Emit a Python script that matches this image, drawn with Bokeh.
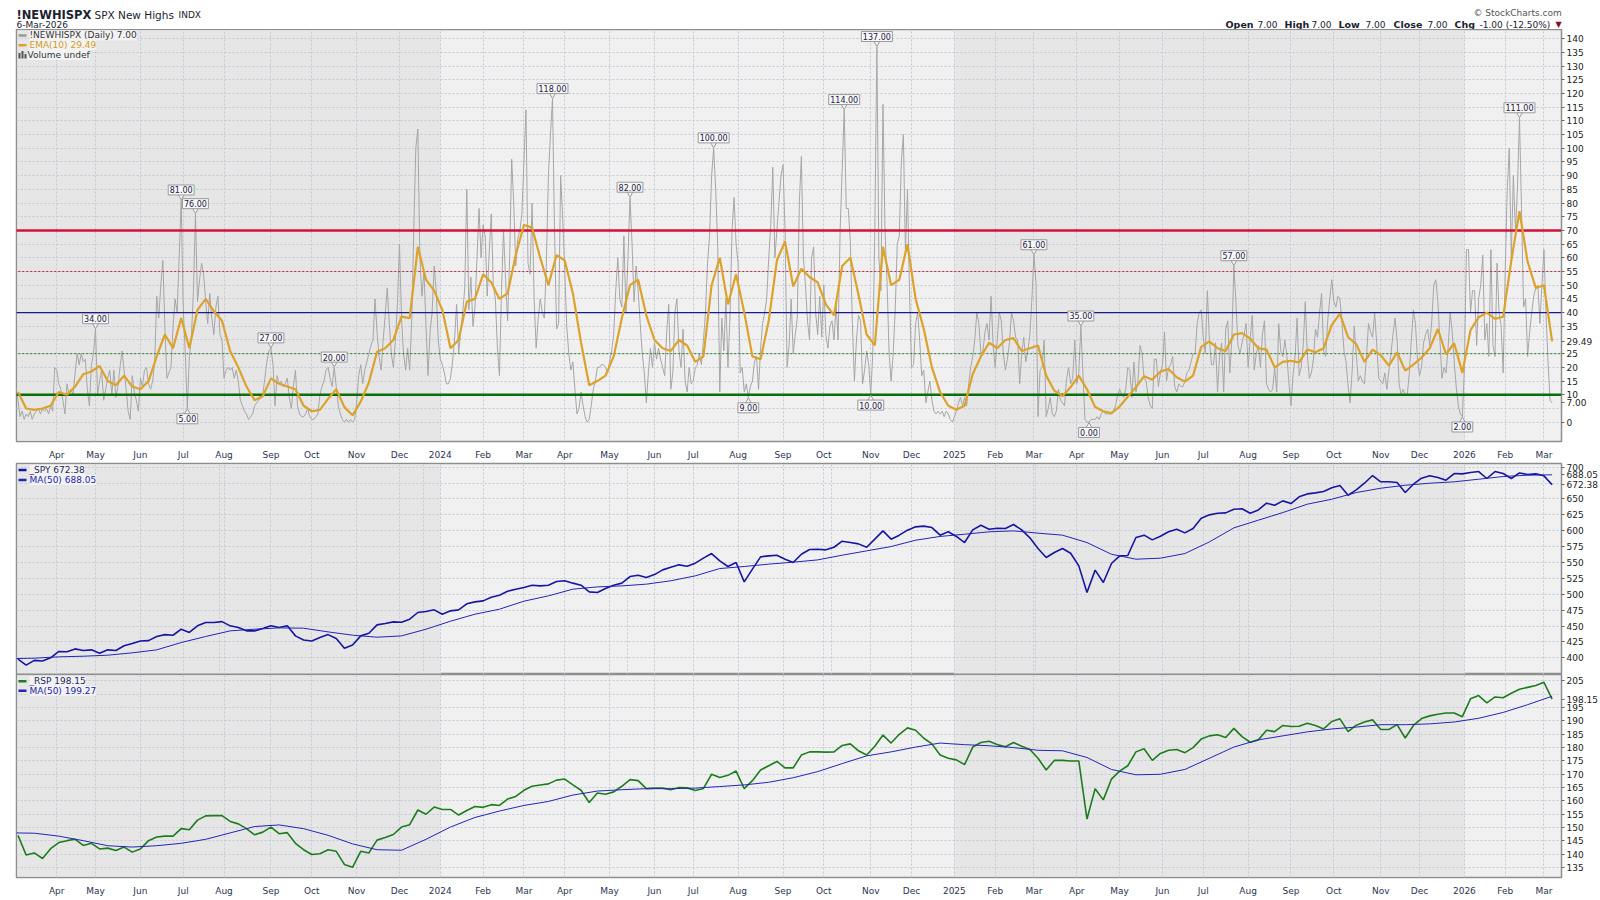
import numpy as np
import pandas as pd
from pandas.tseries.offsets import CustomBusinessDay
from bokeh.plotting import figure
from bokeh.models import Range1d, FixedTicker, Label, Grid
from bokeh.layouts import column
from bokeh.embed import file_html
from bokeh.resources import INLINE
from bokeh.core.properties import value

FONT = "DejaVu Sans"

# ------------------------------------------------------------------ data
start_date = "2023-03-06"
end_date = "2026-03-06"
market_holidays = [
    "2023-04-07", "2023-05-29", "2023-06-19", "2023-07-04", "2023-09-04", "2023-11-23", "2023-12-25",
    "2024-01-01", "2024-01-15", "2024-02-19", "2024-03-29", "2024-05-27", "2024-06-19", "2024-07-04",
    "2024-09-02", "2024-11-28", "2024-12-25",
    "2025-01-01", "2025-01-09", "2025-01-20", "2025-02-17", "2025-04-18", "2025-05-26", "2025-06-19",
    "2025-07-04", "2025-09-01", "2025-11-27", "2025-12-25",
    "2026-01-01", "2026-01-19", "2026-02-16",
]

# !NEWHISPX daily values (one per session)
new_highs = [
    13, 8, 2, 4, 1, 3, 2, 4, 1, 3, 4, 5, 3, 5, 4, 5, 3, 6, 4, 20,
    19, 14, 12, 8, 3, 14, 10, 12, 10, 18, 25, 21, 25, 22, 23, 12, 6, 21, 25, 34,
    10, 15, 19, 8, 12, 16, 19, 10, 19, 9, 13, 20, 26, 19, 12, 4, 1, 17, 11, 8,
    4, 16, 13, 19, 20, 14, 12, 15, 22, 46, 38, 50, 59, 35, 16, 18, 20, 35, 45, 40,
    60, 81, 42, 25, 5, 24, 31, 48, 76, 44, 52, 58, 54, 44, 36, 47, 38, 32, 42, 46,
    32, 30, 16, 19, 20, 19, 20, 16, 19, 15, 8, 6, 4, 3, 1, 2, 3, 6, 7, 8,
    9, 10, 16, 22, 26, 27, 21, 6, 17, 14, 15, 13, 14, 16, 9, 5, 13, 19, 6, 3,
    2, 2, 3, 5, 2, 1, 1, 2, 3, 10, 13, 15, 19, 20, 16, 13, 20, 13, 6, 3,
    1, 0, 1, 0, 1, 0, 1, 7, 17, 21, 14, 19, 22, 25, 28, 30, 45, 33, 24, 19,
    30, 39, 49, 36, 25, 20, 30, 43, 65, 38, 25, 19, 27, 19, 37, 70, 100, 107, 60, 46,
    55, 35, 17, 33, 40, 57, 48, 30, 23, 21, 18, 14, 14, 16, 22, 30, 43, 25, 33, 40,
    49, 85, 41, 53, 35, 42, 60, 78, 60, 72, 68, 46, 62, 76, 50, 45, 27, 17, 48, 70,
    52, 37, 60, 96, 80, 57, 67, 70, 76, 95, 114, 58, 54, 80, 45, 27, 38, 45, 40, 38,
    58, 90, 105, 118, 70, 34, 36, 90, 75, 55, 35, 25, 19, 22, 12, 3, 5, 11, 6, 2,
    0, 1, 6, 12, 15, 20, 20, 21, 21, 20, 18, 22, 26, 32, 48, 60, 45, 42, 68, 40,
    60, 82, 65, 44, 57, 48, 36, 25, 18, 7, 18, 27, 20, 29, 23, 27, 23, 20, 17, 33,
    43, 12, 18, 40, 45, 26, 20, 34, 15, 11, 20, 14, 15, 20, 21, 25, 21, 30, 40, 58,
    68, 90, 100, 85, 64, 11, 38, 26, 45, 20, 38, 70, 82, 65, 58, 18, 20, 11, 14, 9,
    13, 15, 22, 24, 12, 27, 36, 40, 45, 60, 72, 93, 60, 70, 80, 90, 94, 70, 20, 28,
    45, 25, 32, 38, 80, 97, 60, 50, 37, 30, 60, 64, 40, 32, 46, 31, 50, 32, 27, 35,
    37, 30, 43, 30, 70, 92, 114, 78, 78, 66, 36, 15, 30, 39, 37, 14, 19, 26, 21, 10,
    25, 70, 137, 60, 48, 116, 70, 51, 25, 15, 25, 41, 65, 68, 95, 105, 62, 85, 48, 20,
    21, 36, 40, 30, 17, 19, 7, 11, 15, 8, 4, 3, 4, 3, 4, 2, 4, 3, 1, 0,
    2, 4, 7, 9, 6, 9, 6, 14, 20, 24, 30, 40, 36, 25, 26, 33, 36, 30, 46, 28,
    20, 30, 40, 37, 25, 19, 23, 29, 40, 37, 31, 30, 14, 25, 31, 22, 26, 32, 45, 61,
    51, 2, 19, 20, 30, 2, 5, 9, 3, 2, 4, 12, 8, 7, 6, 16, 20, 14, 16, 30,
    14, 18, 35, 18, 1, 0, 0, 1, 1, 1, 2, 1, 3, 4, 3, 3, 3, 3, 4, 6,
    10, 12, 10, 9, 12, 20, 19, 9, 22, 11, 15, 28, 25, 16, 15, 9, 6, 5, 23, 23,
    13, 18, 21, 33, 15, 20, 21, 24, 13, 11, 14, 13, 13, 15, 18, 19, 22, 25, 25, 36,
    40, 41, 31, 25, 48, 30, 21, 21, 29, 11, 24, 29, 11, 34, 37, 18, 30, 57, 44, 28,
    25, 29, 32, 36, 20, 30, 39, 19, 25, 28, 20, 32, 37, 14, 12, 11, 12, 20, 11, 36,
    26, 24, 30, 24, 14, 6, 17, 24, 38, 17, 20, 28, 44, 25, 16, 18, 23, 34, 31, 40,
    47, 26, 24, 37, 45, 52, 44, 42, 46, 45, 36, 26, 22, 13, 7, 19, 35, 25, 15, 17,
    15, 14, 24, 36, 33, 31, 40, 29, 16, 15, 14, 18, 12, 19, 25, 32, 38, 30, 14, 10,
    12, 10, 10, 18, 30, 41, 36, 23, 17, 20, 29, 32, 34, 28, 37, 50, 52, 44, 30, 16,
    20, 18, 27, 40, 33, 22, 13, 6, 3, 2, 20, 63, 63, 40, 48, 48, 28, 45, 50, 61,
    30, 36, 24, 63, 28, 24, 58, 40, 35, 18, 55, 85, 100, 60, 90, 70, 85, 111, 78, 42,
    45, 24, 33, 40, 46, 49, 50, 36, 50, 63, 40, 22, 8, 7,
]

# EMA(10) of !NEWHISPX, read every 4th session starting at session 1
ema10 = [
    11, 5, 4.5, 5, 6, 11, 10, 13, 17.5, 18.5, 20.5, 15, 13.5, 17, 13, 12, 15, 24, 32, 27,
    38, 27, 41, 45, 40.5, 37, 26, 20, 13, 8, 9.5, 16, 14, 13, 12, 6, 4, 4.5, 8.5, 12,
    5.5, 2.5, 7.5, 14.5, 25.7, 27, 30, 38.5, 38,
    64, 52, 48, 41, 27, 30, 44, 45, 54, 51, 45, 47, 61, 72, 71, 60, 50, 61, 59, 47,
    29, 13.5, 15, 17, 24, 38, 50, 52, 39, 30, 27, 26, 30, 28, 22, 24, 50, 60, 43, 54,
    40, 24, 23, 37, 59, 66, 49.5, 56,
    53, 51, 43, 39, 57, 60, 46.5, 32, 28, 64, 50, 52, 65, 45, 34, 20, 11, 6, 4.5, 6,
    17.6, 24, 29, 27, 30, 30.7, 26, 27, 28, 17, 11.5, 9.5, 12.8, 17, 12, 5.5, 4, 3.3, 5.7, 9.3,
    12.8, 16.8, 15.5, 18.5, 19.4, 16.4, 14.8, 17,
    27.5, 29.5, 27, 26, 32, 32.5, 30.5, 27, 26.5, 20, 22, 22.4, 21.8, 26.5, 25.5, 27, 35.5, 39.6, 31, 28.5,
    22, 26.5, 24.5, 20.6, 25.5, 18.8, 21, 23.6, 27, 34, 24.8,
    28.8, 18, 33.6, 38.3, 40, 37.7, 38.5, 59, 77, 58.5, 49, 50, 29.49,
]

# _SPY close, every 4th session starting at session 1
spy = [
    398, 388.5, 396, 395, 400, 410, 409.5, 414, 411.5, 412.5, 407, 412.5, 411.5, 419, 422.5, 426.5, 427, 433.5, 436.5, 435.5,
    445, 440, 450.3, 455.5, 455.5, 457, 450.3, 447.6, 442.4, 442.4, 446, 450.3, 447.6, 450.3, 434.5, 428, 426.5, 432, 436.5, 430.5,
    415, 420, 434.5, 438.7, 451.8, 454, 456.5, 456, 460.8, 471.3, 472.8, 475.5, 468.6, 473.9, 475.5, 485, 488, 489.6, 495.4, 498.5,
    504.8, 508, 510.6,
    514.3, 513.2, 514.3, 520, 521.2, 517.5, 514.3, 503.8, 502.7, 509, 514.3, 517.5, 527.9, 530, 526.3, 531, 538.4, 542.6, 546.3, 544.2,
    549, 556.8, 564.1, 552.6, 543.7, 550, 519.5, 539.5, 558.9, 560.4, 561.5, 555.2, 550, 563, 570.4, 570.9, 569.9, 574, 583.5, 581.4,
    579.3, 574, 586.7, 599.8, 586.7, 593, 600.9, 606.1, 607.2, 605, 593, 598.3, 591, 581.4, 601.3, 608.7, 602.4, 604, 603.5, 609.8,
    601.3, 588.8, 572,
    557.8, 565.7, 572, 564.6, 544.7, 502.7, 538, 518.5, 548.4, 560.4, 561, 589.3, 593, 585.6, 591.4, 598.3, 602.4, 596.6, 603.5, 619.7,
    625, 627.6, 628.1, 633.9, 634.5, 627.6, 632.8, 643.3, 640.2, 647, 642.8, 653.3, 658, 659.6, 661.7, 667.5, 671.1, 655.9, 664.3, 674.8,
    686.9, 677, 677, 675.9, 660.1, 673.2, 682.7, 686.4, 683.7, 679.5, 690, 689.5, 691.6, 693.2, 682.2, 693.2, 690, 682.2, 691, 688.5,
    689.5, 686.4, 672.38,
]

# _SPY MA(50): session 0, then every 12th session starting at session 9
spy_ma50 = [
    398.8,
    399.4, 401.5, 402.5, 404.1, 407.8, 412.5, 424, 433.5, 442.4, 445, 447.1, 446.6, 440.8, 435.6, 432.4, 434.5, 445, 457.6, 468.6, 476.5, 489.1,
    497.5, 508, 511.6, 513.2, 515.9, 521.2, 529, 540.5, 543.7, 547.4, 550.5, 554.1, 561.5, 568.3, 575.1, 585.1, 591, 594.5, 598.3, 599.8, 596.2,
    593, 581.4, 563, 555.2, 556.8, 564.1, 582.4, 604.5, 616.6, 628.6, 641.8, 649.6, 660.1, 666.9, 671.6, 674.8, 677, 681.1, 685.3, 687.4, 688.05,
]

# _RSP close, every 4th session starting at session 1
rsp = [
    147.1, 139.7, 140.5, 138.4, 142.1, 144.4, 145.1, 145.6, 143.3, 144.1, 142, 142.3, 141.4, 142.7, 140.8, 142, 145.1, 146.5, 146.8, 146.8,
    149.6, 149.2, 152.8, 154.4, 154.5, 154.5, 152.3, 151.4, 149.6, 147.3, 148.3, 150.2, 147.7, 148.1, 144.1, 141.7, 139.9, 140.2, 141.7, 141.1,
    136.2, 135.1, 141.1, 140.5, 145.3, 146.3, 147.4, 150.2, 151.1, 156.6, 155, 157.7, 156.8, 156.8, 154.7, 156.4, 157.9, 157.6, 158.6, 158.3,
    160.7, 161.7, 164,
    165.5, 166, 166.4, 167.8, 168.2, 166, 164, 159.4, 163, 162.5, 163.4, 165.5, 168, 167.6, 164.6, 164.8, 164.8, 164.2, 165, 164.9,
    163.9, 164.7, 170, 168.8, 169.6, 171.2, 164.6, 167.6, 171.6, 173.2, 174.8, 172.4, 172.4, 177.2, 178.4, 178.4, 178.3, 178.4, 180.8, 181.4,
    178.8, 177.2, 180.5, 184.7, 181.7, 185, 187.4, 186.5, 183.5, 181.4, 177.2, 176, 175.4, 173.6, 180.2, 181.9, 182.4, 181.2, 180.3, 181.9,
    180.5, 179.3, 176,
    171.6, 175.2, 175.2, 175, 175, 153.2, 164.6, 160.4, 168.2, 171.2, 173.2, 178.4, 179.6, 175.2, 177.8, 179, 179.3, 178.1, 180, 183.2,
    184.4, 184.8, 183.8, 187.2, 184.1, 182, 182.9, 186.5, 186, 188.3, 187.9, 188, 189.1, 188.3, 187, 189.8, 190.8, 186, 188.4, 189.6,
    190.4, 186.8, 186.8, 188.6, 183.6, 188.3, 190.9, 191.9, 192.5, 193, 193, 191.6, 198.3, 199.5, 196.8, 199, 198.7, 200.4, 201.9, 202.6,
    203.3, 204.5, 198.15,
]

# _RSP MA(50): session 0, then every 12th session starting at session 9
rsp_ma50 = [
    148.0,
    147.9, 146.8, 145.1, 143.2, 142.7, 143.2, 144.1, 145.6, 148, 150.4, 151, 149.6, 147.1, 143.9, 141.7, 141.5, 145.6, 150.2, 153.8, 156.2, 158.3,
    159.8, 162.2, 163.7, 164.2, 164.6, 164.6, 164.8, 165.4, 166, 167, 168.7, 171, 174, 176.9, 178.4, 180.2, 181.7, 181.1, 180.7, 180, 179,
    178.8, 176.3, 171.8, 169.8, 170, 171.8, 176, 180.2, 182.9, 184.4, 185.9, 187, 187.7, 188.6, 188.6, 188.9, 189.6, 191, 193.2, 196.1, 199.27,
]

peak_sessions = [39, 81, 88, 125, 156, 263, 301, 342, 406, 422, 499, 522, 597, 737]
trough_sessions = [84, 359, 419, 526, 709]

h_levels = [70, 55, 40, 25, 10]
top_ticks = list(range(0, 141, 5))
mid_ticks = list(range(400, 701, 25))
bot_ticks = list(range(135, 206, 5))

# ------------------------------------------------------------------ sessions / ticks
sessions = pd.date_range(start_date, end_date, freq=CustomBusinessDay(holidays=market_holidays))
month_ticks, month_names = [], {}
for i in range(1, len(sessions)):
    if sessions[i].month != sessions[i - 1].month:
        month_ticks.append(i)
        if sessions[i].month == 1:
            month_names[i] = str(sessions[i].year)
        else:
            month_names[i] = sessions[i].strftime("%b")
year_ticks = [i for i in month_ticks if sessions[i].month == 1]

x_nh = np.arange(len(new_highs))
x_ema = np.arange(1, 1 + 4 * len(ema10), 4)
x_spy = np.arange(1, 1 + 4 * len(spy), 4)
x_rsp = np.arange(1, 1 + 4 * len(rsp), 4)
x_spy_ma = np.concatenate([[0], np.arange(9, 9 + 12 * (len(spy_ma50) - 1), 12)])
x_rsp_ma = np.concatenate([[0], np.arange(9, 9 + 12 * (len(rsp_ma50) - 1), 12)])

# ------------------------------------------------------------------ layout (page pixels = canvas pixels)
W = 1600
BL = 16
FW = 1547
BR = W - BL - FW
X0, X1 = 0.27, 757.6
PX = FW / (X1 - X0)


def xd(xa):
    return X0 + (xa - BL) / PX


HDR_H = 29
# top panel frame: 29..449
F1_TOP, F1_H = 29, 420
PPU1 = 2.7929
Y1 = (0 - (F1_TOP + F1_H - 429.3) / PPU1, 140 + (38.3 - F1_TOP) / PPU1)
# middle frame: 463..674
F2_TOP, F2_H = 463, 211
PPU2 = 0.63526
Y2 = (400 - (F2_TOP + F2_H - 657.3) / PPU2, 700 + (466.7 - F2_TOP) / PPU2)
# bottom frame: 674..885
F3_TOP, F3_H = 674, 211
PPU3 = 2.7714
Y3 = (135 - (F3_TOP + F3_H - 874.7) / PPU3, 205 + (680.7 - F3_TOP) / PPU3)


def yd1(ya):
    return Y1[1] - (ya - F1_TOP) / PPU1


def yd2(ya):
    return Y2[1] - (ya - F2_TOP) / PPU2


def yd3(ya):
    return Y3[1] - (ya - F3_TOP) / PPU3


def make_panel(h, bt, bb, yr, ppu, yticks, tags, xaxis):
    p = figure(width=W, height=h, x_range=Range1d(X0, X1), y_range=Range1d(*yr),
               x_axis_location=("below" if xaxis else None), y_axis_location="right",
               output_backend="svg", toolbar_location=None,
               min_border_left=BL, min_border_right=BR, min_border_top=bt, min_border_bottom=bb)
    p.background_fill_color = "#f0f0f0"
    p.border_fill_color = "white"
    p.outline_line_color = "#8e8e8e"
    p.outline_line_width = 1.5
    # right axis: regular ticks (those hidden behind a last-value tag are left out) + last-value tags
    tag_vals = list(tags)
    regular = [t for t in yticks if all(abs(t - tv) * ppu > 6 for tv in tag_vals)]
    overrides = {}
    for t in regular:
        overrides[t] = str(t)
        overrides[str(t)] = str(t)
    for tv in tag_vals:
        overrides[tv] = f"{tv:.2f}"
        overrides[str(tv)] = f"{tv:.2f}"
    p.yaxis.ticker = FixedTicker(ticks=regular + tag_vals)
    p.ygrid.ticker = FixedTicker(ticks=yticks)
    p.yaxis.major_label_overrides = overrides
    p.yaxis.major_label_text_font = FONT
    p.yaxis.major_label_text_font_size = "9px"
    p.yaxis.major_label_text_color = "#222222"
    p.yaxis.axis_line_color = "#8e8e8e"
    p.yaxis.major_tick_line_color = "#666666"
    p.yaxis.major_tick_in = 0
    p.yaxis.major_tick_out = 3
    p.yaxis.minor_tick_line_color = None
    p.yaxis.major_label_standoff = 2
    xt = FixedTicker(ticks=month_ticks)
    if xaxis:
        p.xaxis.ticker = xt
        p.xgrid.ticker = xt
        p.xaxis.major_label_overrides = month_names
        p.xaxis.axis_line_color = None
        p.xaxis.major_tick_line_color = None
        p.xaxis.minor_tick_line_color = None
        p.xaxis.major_label_standoff = 2
        p.xaxis.major_label_text_font = FONT
        p.xaxis.major_label_text_font_size = "9px"
        p.xaxis.major_label_text_color = "#2b3452"
    else:
        p.add_layout(Grid(dimension=0, ticker=xt))
    p.grid.grid_line_color = "#c3c9d5"
    p.grid.grid_line_dash = "2 2"
    p.grid.grid_line_width = 1
    # alternating year shading (kept 1px inside the frame so the outline stays visible)
    bounds = [X0 + 1.0 / PX] + year_ticks + [X1]
    for k in range(len(bounds) - 1):
        if k % 2 == 0:
            p.quad(left=bounds[k], right=bounds[k + 1], bottom=yr[0] + 1.0 / ppu, top=yr[1] - 1.0 / ppu,
                   fill_color="#e6e6e6", line_color=None, level="image")
    return p


def add_label(p, x, y, text, size="9px", color="#333333", bold=False, align="left",
              baseline="middle", bg=None, bg_alpha=1.0):
    lb = Label(x=x, y=y, text=text, text_font=FONT, text_font_size=size, text_color=color,
               text_font_style=("bold" if bold else "normal"), text_align=align, text_baseline=baseline)
    if bg is not None:
        lb.background_fill_color = bg
        lb.background_fill_alpha = bg_alpha
    p.add_layout(lb)


# header strip: its frame is the whole strip, coordinates are page pixels
p0 = figure(width=W, height=HDR_H, x_range=Range1d(0, W), y_range=Range1d(HDR_H, 0),
            x_axis_location=None, y_axis_location=None, output_backend="svg", toolbar_location=None,
            min_border_left=0, min_border_right=0, min_border_top=0, min_border_bottom=0)
p0.frame_align = False
p0.outline_line_color = None
p0.background_fill_color = "white"
p0.border_fill_color = "white"
p0.grid.visible = False

p1 = make_panel(F1_H + 13, 0, 13, Y1, PPU1, top_ticks, [ema10[-1], float(new_highs[-1])], True)
p2 = make_panel(F2_H + 1, 1, 0, Y2, PPU2, mid_ticks, [spy_ma50[-1], spy[-1]], False)
p3 = make_panel(F3_H + 13, 0, 13, Y3, PPU3, bot_ticks, [rsp[-1]], True)

# ------------------------------------------------------------------ header
last = new_highs[-1]
prev = new_highs[-2]
chg = last - prev
hdr = [
    (16, 14, "!NEWHISPX", "11.5px", "bold", "#1c2230"),
    (94, 14, "SPX New Highs", "10.5px", "normal", "#1c2230"),
    (178, 14, "INDX", "9px", "normal", "#1c2230"),
    (16, 24, sessions[-1].strftime("%-d-%b-%Y"), "9px", "normal", "#1c2230"),
    (1473, 12.5, "\u00a9 StockCharts.com", "9px", "normal", "#555555"),
    (1225, 24, "Open", "9.5px", "bold", "#1c2230"),
    (1257, 24, f"{last:.2f}", "9px", "normal", "#1c2230"),
    (1284, 24, "High", "9.5px", "bold", "#1c2230"),
    (1311, 24, f"{last:.2f}", "9px", "normal", "#1c2230"),
    (1338, 24, "Low", "9.5px", "bold", "#1c2230"),
    (1365, 24, f"{last:.2f}", "9px", "normal", "#1c2230"),
    (1393, 24, "Close", "9.5px", "bold", "#1c2230"),
    (1427, 24, f"{last:.2f}", "9px", "normal", "#1c2230"),
    (1454, 24, "Chg", "9.5px", "bold", "#1c2230"),
    (1479, 24, f"{chg:.2f} ({chg / prev * 100:.2f}%)", "9px", "normal", "#1c2230"),
    (1555, 24, "\u25bc", "8px", "normal", "#8b0a2a"),
]
for xa, ya, t, fs, st, c in hdr:
    p0.text(x=[xa], y=[ya], text=[t], text_font=value(FONT), text_font_size=fs, text_font_style=st,
            text_color=c, text_align="left", text_baseline="alphabetic")

# ------------------------------------------------------------------ top panel
p1.line(x_nh, new_highs, line_color="#a6a6a6", line_width=1)
level_styles = [("#d3103a", 2.5, "solid"), ("#c8203c", 1, "2 2"), ("#1a1a8a", 1.2, "solid"),
                ("#1a7a1a", 1, "2 2"), ("#0a6e0a", 2.5, "solid")]
for lv, (c, w, d) in zip(h_levels, level_styles):
    p1.segment(x0=X0 - 5, y0=lv, x1=X1 + 5, y1=lv, line_color=c, line_width=w, line_dash=d)
p1.line(x_ema, ema10, line_color="#dca22a", line_width=2.2)

# peak / trough call-outs
ax, ay, at, aw, tx, ty, bx, by = [], [], [], [], [], [], [], []
for i in peak_sessions:
    v = new_highs[i]
    t = f"{v:.2f}"
    ax.append(i); ay.append(v + 10.5 / PPU1); at.append(t)
    aw.append(((len(t) - 1) * 0.636 + 0.318) * 8 + 3)
    tx.append(i); ty.append(v + 4.0 / PPU1)
for i in trough_sessions:
    v = new_highs[i]
    t = f"{v:.2f}"
    ax.append(i); ay.append(v - 10.5 / PPU1); at.append(t)
    aw.append(((len(t) - 1) * 0.636 + 0.318) * 8 + 3)
    bx.append(i); by.append(v - 4.0 / PPU1)
p1.scatter(tx, ty, marker="inverted_triangle", size=6, fill_color="#f7f7f7", line_color="#9a9a9a")
p1.scatter(bx, by, marker="triangle", size=6, fill_color="#f7f7f7", line_color="#9a9a9a")
p1.rect(x=ax, y=ay, width=aw, height=10, width_units="screen", height_units="screen",
        fill_color="#f7f7f7", line_color="#9a9a9a", line_width=1)
p1.text(x=ax, y=ay, text=at, text_align="center", text_baseline="middle",
        text_font=value(FONT), text_font_size="8px", text_color="#1b2147")

# legend
p1.segment(x0=xd(18), y0=yd1(35), x1=xd(26), y1=yd1(35), line_color="#9a9a9a", line_width=2.5)
add_label(p1, xd(29), yd1(35), f"!NEWHISPX (Daily) {new_highs[-1]:.2f}", color="#333333",
          bg="#f4f4f4", bg_alpha=0.9)
p1.segment(x0=xd(18), y0=yd1(45), x1=xd(26), y1=yd1(45), line_color="#dca22a", line_width=2.5)
add_label(p1, xd(29), yd1(45), f"EMA(10) {ema10[-1]:.2f}", color="#d49a1e", bg="#f4f4f4", bg_alpha=0.9)
bar_l = [xd(18), xd(21), xd(24)]
bar_r = [xd(20), xd(23), xd(26)]
bar_t = [yd1(53), yd1(51), yd1(54)]
p1.quad(left=bar_l, right=bar_r, bottom=yd1(58.5), top=bar_t, fill_color="#555555", line_color=None)
add_label(p1, xd(27), yd1(55), "Volume undef", color="#333333", bg="#f4f4f4", bg_alpha=0.9)

# ------------------------------------------------------------------ middle panel
p2.line(x_spy, spy, line_color="#1616a2", line_width=1.6)
p2.line(x_spy_ma, spy_ma50, line_color="#2525b8", line_width=1)
p2.segment(x0=xd(18), y0=yd2(469.5), x1=xd(26), y1=yd2(469.5), line_color="#1616a2", line_width=2.5)
add_label(p2, xd(29), yd2(469.5), f"_SPY {spy[-1]:.2f}", color="#1e2a5a", bg="#f4f4f4", bg_alpha=0.9)
p2.segment(x0=xd(18), y0=yd2(479.5), x1=xd(26), y1=yd2(479.5), line_color="#2525b8", line_width=2.5)
add_label(p2, xd(29), yd2(479.5), f"MA(50) {spy_ma50[-1]:.2f}", color="#2525b0", bg="#f4f4f4", bg_alpha=0.9)

# ------------------------------------------------------------------ bottom panel
p3.line(x_rsp, rsp, line_color="#1d7d1d", line_width=1.6)
p3.line(x_rsp_ma, rsp_ma50, line_color="#2525b8", line_width=1)
p3.segment(x0=xd(18), y0=yd3(681), x1=xd(26), y1=yd3(681), line_color="#1d7d1d", line_width=2.5)
add_label(p3, xd(29), yd3(681), f"_RSP {rsp[-1]:.2f}", color="#1e2a5a", bg="#f4f4f4", bg_alpha=0.9)
p3.segment(x0=xd(18), y0=yd3(691), x1=xd(26), y1=yd3(691), line_color="#2525b8", line_width=2.5)
add_label(p3, xd(29), yd3(691), f"MA(50) {rsp_ma50[-1]:.2f}", color="#2525b0", bg="#f4f4f4", bg_alpha=0.9)

layout = column(p0, p1, p2, p3)
open("out.html", "w").write(file_html(layout, INLINE, title="!NEWHISPX SPX New Highs"))
